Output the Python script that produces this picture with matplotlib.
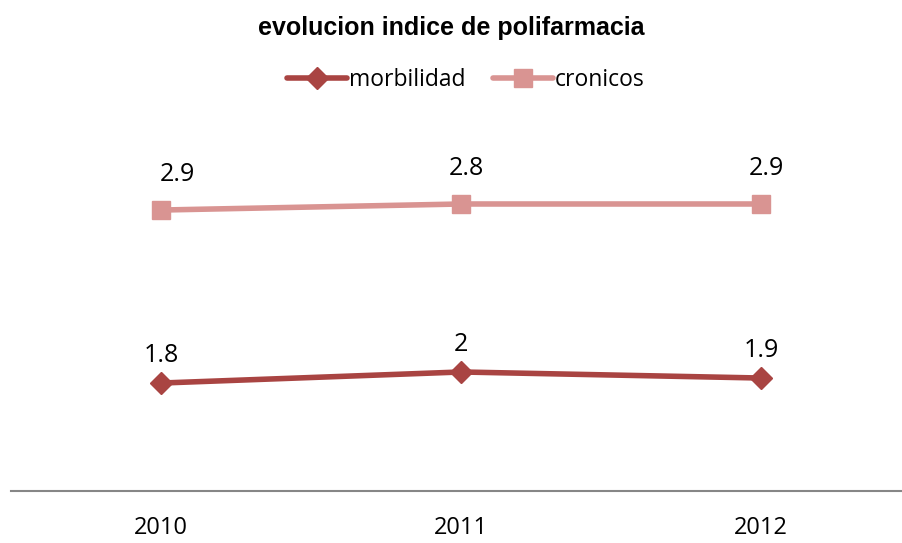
import matplotlib
matplotlib.use("Agg")
import matplotlib.pyplot as plt
from matplotlib.lines import Line2D

categories = ["2010", "2011", "2012"]
morbilidad = [1.824, 1.888, 1.853]
cronicos = [2.824, 2.859, 2.859]
morbilidad_labels = ["1.8", "2", "1.9"]
cronicos_labels = ["2.9", "2.8", "2.9"]

c_morb = "#A94442"
c_cron = "#D99492"
font = ["Open Sans", "DejaVu Sans"]

fig = plt.figure(figsize=(9.02, 5.43), dpi=100)
W, H = 902, 543
left, right = 11, 902
bottom, top = 491, 130
ax = fig.add_axes([left / W, 1 - bottom / H, (right - left) / W, (bottom - top) / H])
x = list(range(len(categories)))
ax.plot(x, cronicos, color=c_cron, lw=4, marker="s", ms=13, solid_capstyle="round", zorder=3, clip_on=False)
ax.plot(x, morbilidad, color=c_morb, lw=4, marker="D", ms=11, solid_capstyle="round", zorder=3, clip_on=False)
ax.set_xlim(-0.5, 2.47)
ax.set_ylim(1.2, 1.2 + 361 / 173)
for s in ["top", "right", "left"]:
    ax.spines[s].set_visible(False)
ax.spines["bottom"].set_color("#868686")
ax.spines["bottom"].set_linewidth(1.5)
ax.set_yticks([])
ax.set_xticks(x)
ax.set_xticklabels(categories, fontsize=17, family=font)
ax.tick_params(axis="x", length=0, pad=18)

for xi, v, lab in zip(x, cronicos, cronicos_labels):
    dx = 12 if xi == 0 else 4
    ax.annotate(lab, (xi, v), xytext=(dx, 25.5), textcoords="offset points",
                ha="center", va="center", fontsize=18, family=font)
for xi, v, lab in zip(x, morbilidad, morbilidad_labels):
    ax.annotate(lab, (xi, v), xytext=(0, 19.5), textcoords="offset points",
                ha="center", va="center", fontsize=18, family=font)

fig.text(451 / W, 1 - 28 / H, "evolucion indice de polifarmacia", ha="center", va="center",
         fontsize=18, fontweight="bold", family=["Liberation Sans", "DejaVu Sans"])

handles = [Line2D([], [], color=c_morb, lw=4, marker="D", ms=11, solid_capstyle="round"),
           Line2D([], [], color=c_cron, lw=4, marker="s", ms=13, solid_capstyle="round")]
fig.legend(handles, ["morbilidad", "cronicos"], loc="center", bbox_to_anchor=(466 / W, 1 - 80 / H),
           ncol=2, frameon=False, prop={"family": font, "size": 16.5}, handlelength=2.6,
           handletextpad=0.1, columnspacing=1.2)

fig.savefig("out.png", dpi=100)
